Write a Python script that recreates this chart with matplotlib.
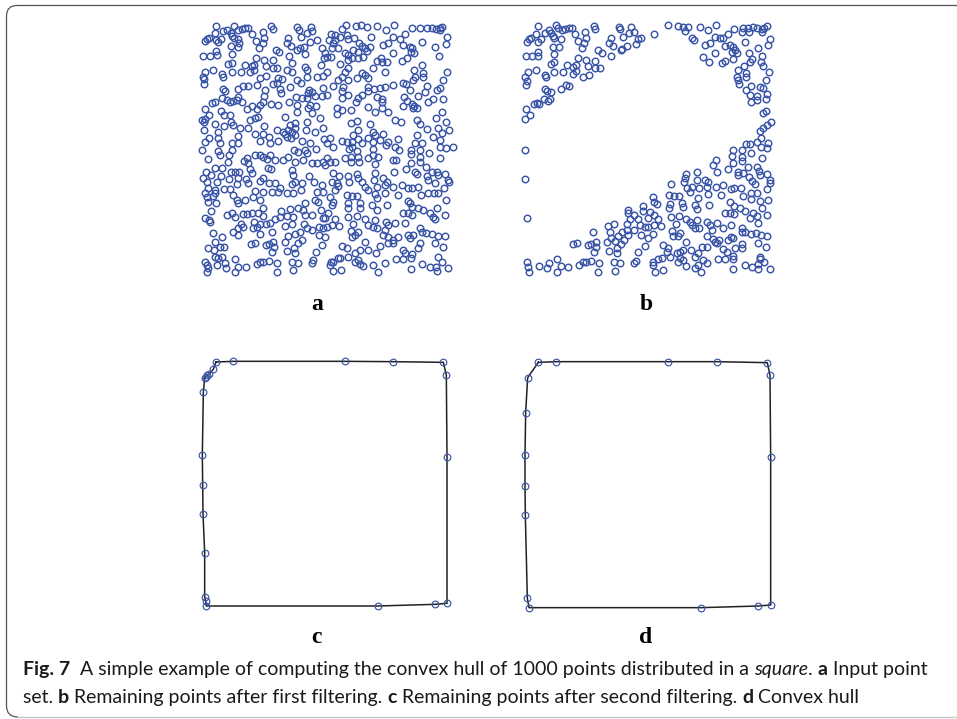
import numpy as np
import matplotlib
matplotlib.use('Agg')
import matplotlib.pyplot as plt
from matplotlib.patches import PathPatch
from matplotlib.path import Path

# Points, tile by tile (tile pixels, scale 3)
a_top_left = [(63,32),(117,32),(229,33),(235,43),(305,37),(312,45),(348,35),(352,48),(335,55),
    (85,47),(97,45),(130,45),(140,42),(150,40),(160,38),(108,55),(112,62),(118,70),(130,72),(203,50),(172,58),(318,65),(207,68),
    (30,78),(36,73),(42,68),(60,55),(63,75),(70,82),(78,72),(182,78),(133,85),(130,95),(108,93),(203,85),(193,100),(280,70),(275,85),(288,92),(305,105),(315,100),(328,95),(330,118),(382,100),(345,80),(365,75),
    (25,124),(45,124),(63,108),(65,120),(110,118),(243,104),(252,112),(282,122),(183,130),(207,134),(235,135),(100,146),(112,143),(150,150),(170,152),(178,150),(213,153),(233,158),(245,158),(275,165),(292,145),(330,155),(335,165),(378,150),(388,130),
    (55,165),(30,172),(24,185),(28,192),(27,208),(82,178),(85,185),(111,172),(138,172),(165,172),(177,165),(195,188),(214,182),(292,172),(365,187),(385,182),(305,195),(318,203),(335,187),
    (85,222),(90,228),(130,222),(145,212),(158,214),(185,210),(210,225),(208,243),(235,207),(245,205),(250,190),(260,192),(255,222),(258,235),(285,215),(343,225),(338,235),(350,232),(360,243),(382,243),(385,220),(302,245),(335,250),
    (80,250),(95,255),(105,260),(115,258),(125,255),(130,245),(142,262),(52,265),(60,262),(205,262),(228,268),(248,270),(283,262),(305,270),(320,250),(345,270),(340,280),(362,272),(30,282),(78,288),(87,300),(105,300),(155,282),(172,272),(195,270),(185,283),(305,290),(350,295),
    (22,314),(42,300),(30,312),(28,322),(60,328),(88,332),(108,322),(115,330),(135,338),(165,315),(180,310),(190,305),(207,332),(158,338),(270,305),(285,330),(300,325),(375,310),(335,322),(333,345),(360,352),(385,338),(280,345),(290,350),(270,357),(300,338),(275,365),(288,370),(300,360),(68,352),(130,362),(180,358),(203,358),(222,365),(245,345),(26,344),(42,368),(30,380),(70,368),(110,383),(75,385),(130,385),(195,378),(250,378),(225,385),(320,378),(345,383),(388,372),(265,352)]

a_top_right = [(63,30),(93,32),(108,30),(125,37),(157,34),(207,30),(182,46),(260,40),(285,38),(305,40),(320,40),(332,42),(345,40),(352,35),(345,45),(292,80),(50,42),(18,57),(65,60),(30,60),(45,65),(12,75),(30,75),(25,85),(40,98),(20,100),(68,72),(88,70),(138,66),(190,85),(175,90),(203,65),(225,72),(240,58),(235,90),(365,65),(362,88),(330,97),(103,85),(112,92),(120,100),(135,95),(60,115),(70,120),(70,135),(85,105),(100,110),(125,108),(115,125),(98,130),(80,128),(205,113),(255,95),(262,100),(258,110),(268,115),(245,130),(230,138),(5,127),(18,127),(0,115),(45,147),(168,128),(155,138),(170,142),(185,142),(145,160),(268,165),(290,150),(343,122),(365,170),(70,160),(60,170),(50,185),(40,195),(70,195),(95,190),(110,175),(120,180),(130,190),(180,172),(270,185),(265,195),(295,175),(295,185),(355,195),(5,170),(25,212),(55,215),(52,228),(70,240),(50,250),(130,215),(148,222),(165,220),(180,215),(205,210),(235,205),(243,207),(255,225),(305,212),(345,218),(335,225),(5,240),(155,245),(170,252),(172,262),(130,228),(110,240),(100,250),(92,260),(238,245),(280,242),(300,232),(310,262),(325,252),(355,252),(245,258),(235,272),(260,268),(268,272),(275,278),(265,280),(128,275),(35,280),(52,285),(78,285),(35,297),(150,292),(170,280),(188,290),(78,325),(97,318),(135,328),(210,316),(228,322),(275,315),(285,328),(305,343),(332,310),(350,290),(362,320),(338,340),(98,345),(85,360),(145,350),(150,360),(175,358),(165,375),(145,380),(130,370),(15,370),(50,378),(5,385),(65,380),(80,380),(100,372),(110,385),(190,382),(218,372),(275,360),(270,385),(325,365),(350,355),(372,345),(345,375),(290,385)]

a_bottom_left = [(22,14),(70,18),(75,30),(38,42),(103,30),(98,50),(110,15),(180,30),(195,30),(205,35),(215,42),(225,30),(240,45),(155,40),(148,48),(160,55),(165,72),(172,85),(220,68),(228,72),(265,45),(278,35),(298,15),(310,22),(330,15),(335,25),(325,45),(300,50),(362,12),(352,55),(365,55),(385,50),(60,68),(82,68),(108,82),(120,80),(132,82),(32,82),(25,100),(48,90),(78,92),(102,102),(130,100),(152,103),(160,115),(125,116),(205,100),(195,108),(222,115),(240,115),(290,75),(295,90),(343,92),(300,110),(320,115),(290,118),(358,112),(380,120),(35,110),(65,110),(38,128),(60,135),(88,133),(105,133),(180,138),(205,140),(255,130),(248,140),(232,140),(275,145),(295,145),(318,135),(365,140),(385,140),(30,145),(35,155),(60,145),(55,152),(115,150),(125,165),(128,175),(150,165),(175,155),(195,165),(360,165),(370,170),(38,172),(62,175),(330,175),(47,197),(97,210),(110,203),(120,215),(143,207),(155,208),(170,205),(190,205),(205,188),(203,212),(258,198),(285,192),(310,190),(325,195),(330,210),(352,210),(378,195),(385,220),(30,218),(42,225),(45,232),(240,223),(255,215),(275,212),(295,215),(137,238),(128,250),(145,245),(178,232),(185,245),(195,238),(175,250),(213,238),(225,235),(230,260),(270,243),(292,238),(328,238),(335,250),(352,255),(372,245),(385,250),(315,260),(113,262),(130,270),(195,266),(55,265),(80,275),(60,290),(270,292),(278,272),(300,268),(320,285),(310,295),(372,270),(168,296),(180,295),(212,300),(222,298),(235,292),(238,305),(232,322),(38,308),(58,315),(75,305),(88,305),(275,318),(298,310),(300,325),(363,320),(382,300),(60,335),(70,340),(80,335),(120,342),(90,355),(65,360),(30,352),(35,360),(38,370),(35,380),(92,370),(130,365),(153,365),(185,358),(195,350),(205,350),(222,348),(247,355),(292,350),(310,355),(350,355),(355,345),(120,380),(245,380),(293,376)]

a_bottom_right = [(25,5),(72,12),(80,5),(95,18),(145,12),(183,0),(210,5),(222,15),(257,15),(285,14),(312,25),(345,5),(362,8),(385,5),(5,40),(15,50),(30,50),(0,60),(60,40),(78,35),(78,52),(98,35),(102,52),(128,38),(145,30),(160,35),(205,45),(213,45),(258,28),(258,55),(285,35),(285,50),(345,40),(150,58),(208,82),(243,72),(270,80),(275,88),(302,65),(320,80),(335,80),(340,90),(150,85),(25,85),(42,92),(68,92),(95,88),(100,98),(72,110),(22,110),(35,115),(40,122),(30,135),(110,110),(120,125),(130,135),(148,105),(155,125),(175,100),(185,110),(180,120),(205,125),(230,120),(250,128),(262,128),(280,125),(305,92),(310,105),(330,115),(360,88),(370,105),(372,112),(358,130),(150,148),(155,160),(180,145),(220,150),(287,150),(310,145),(328,145),(340,145),(65,150),(80,152),(95,152),(15,155),(25,170),(20,180),(68,175),(68,190),(105,175),(105,190),(142,180),(155,195),(185,180),(250,168),(255,175),(362,165),(335,190),(315,205),(325,215),(280,190),(295,195),(260,185),(235,205),(248,205),(262,210),(360,210),(330,222),(10,205),(0,220),(30,222),(70,215),(97,212),(120,222),(150,225),(182,232),(190,240),(210,235),(240,235),(285,250),(20,240),(42,242),(5,245),(0,275),(85,238),(130,240),(145,245),(155,248),(78,257),(100,262),(90,270),(80,275),(180,255),(175,270),(190,275),(205,285),(218,275),(250,270),(265,270),(255,280),(290,262),(302,265),(322,268),(340,272),(360,272),(120,292),(50,302),(65,310),(90,325),(105,315),(130,315),(165,302),(190,295),(205,295),(235,315),(285,295),(280,310),(330,295),(355,305),(240,325),(262,328),(258,340),(233,342),(212,342),(90,350),(100,345),(105,358),(115,362),(45,340),(38,340),(68,337),(18,352),(25,352),(15,360),(145,360),(180,355),(152,325),(160,380),(25,378),(48,374),(258,372),(292,358),(315,365),(332,365),(350,352),(338,335),(370,370),(335,378)]

b_top = [(69,33),(123,31),(236,33),(240,43),(311,37),(315,43),(349,37),(358,50),(342,55),(325,65),(459,31),(488,32),(505,35),(510,47),(520,37),(555,35),(578,46),(604,31),(656,41),(683,38),(700,38),(715,37),(725,40),(740,42),(748,38),(757,33),(703,50),(680,52),(740,50),
    (90,53),(103,45),(130,38),(140,45),(150,42),(162,38),(170,40),(63,57),(108,55),(115,62),(118,70),(138,72),(180,58),(210,50),(212,68),(36,82),(42,72),(47,68),(70,80),(78,72),(188,78),(208,85),(133,95),(115,95),(200,100),(287,70),(282,83),(295,92),(336,94),(362,88),(368,72),(377,70),(417,58),(532,68),(537,75),(600,65),(615,70),(625,70),(638,58),(690,80),(764,72),(758,90),(570,90),(585,85),(630,92),(645,90),(655,97),(665,115),(650,110),(660,105),(318,105),(322,102),(728,98),(250,105),(260,115),(289,123),(32,124),(51,124),(69,110),(69,122),(117,118),(190,130),(214,134),(240,138),(108,147),(117,142),(155,151),(175,155),(183,150),(220,153),(240,158),(255,160),(600,115),(565,127),(582,142),(622,143),(630,137),(655,133),(703,113),(712,133),(705,140),(688,152),(740,122),(738,142),(745,152),(763,170),
    (62,165),(38,172),(30,185),(36,197),(33,210),(90,180),(92,187),(118,172),(145,172),(175,178),(183,168),(204,185),(221,181),(668,165),(665,185),(670,195),(692,175),(692,185),(673,208),(752,196),(707,212),(692,225),(735,217),(745,220),(90,221),(97,228),(108,232),(137,222),(152,210),(163,214),(704,241),(725,243),(755,238),(752,253),(725,255),(707,262),(88,252),(100,257),(105,252),(58,266),(65,265),(72,267),(32,282),(46,300),(29,313),(745,295),(754,288),(767,320),(755,330),(745,340),(735,348),(738,370),(725,380),(693,386),(705,386),(760,385)]

b_bottom = [(30,14),(30,102),(36,218),(653,15),(682,14),(708,25),(738,5),(755,10),(652,33),(680,35),(680,48),(742,40),(602,44),(655,55),(595,60),(605,82),(640,73),(698,66),(725,65),(670,80),(670,90),(685,85),(733,78),(735,90),(703,95),(710,108),(757,88),(765,105),(765,115),(755,132),(719,117),(514,88),(510,100),(545,82),(545,105),(468,118),(508,110),(530,125),(515,130),(525,140),(552,130),(570,105),(580,112),(575,125),(603,125),(625,120),(578,146),(617,150),(647,132),(657,130),(677,128),(683,152),(708,145),(725,145),(735,168),(708,162),(760,165),(462,151),(477,153),(492,153),(415,156),(418,172),(425,178),(500,175),(505,185),(540,180),(550,160),(547,193),(582,181),(465,177),(463,190),(385,183),(385,197),(405,200),(418,210),(340,195),(338,205),(358,210),(345,222),(370,222),(398,218),(428,223),(467,215),(493,212),(512,222),(525,232),(545,225),(575,232),(585,240),(607,235),(630,203),(645,205),(657,208),(657,183),(645,170),(675,188),(690,197),(715,205),(725,212),(705,218),(728,235),(740,190),(755,210),(335,238),(278,243),(297,238),(375,240),(390,247),(400,247),(418,240),(438,242),(358,255),(335,255),(482,238),(530,240),(540,250),(552,250),(647,240),(590,255),(625,250),(680,248),(690,262),(235,262),(284,262),(320,260),(340,270),(309,272),(288,280),(300,288),(328,285),(378,270),(400,280),(415,268),(472,257),(475,273),(495,265),(490,272),(575,272),(680,262),(708,268),(722,265),(738,270),(757,272),(648,275),(655,280),(640,285),(612,285),(595,282),(605,295),(275,292),(318,298),(175,298),(186,295),(218,300),(228,298),(242,292),(243,305),(237,322),(282,318),(305,310),(307,325),(370,320),(390,302),(445,300),(460,310),(455,322),(514,292),(505,315),(527,315),(495,320),(485,325),(560,305),(575,305),(550,325),(540,337),(600,290),(625,312),(635,322),(660,308),(682,297),(680,310),(655,332),(730,295),(752,305),(735,335),(735,342),(440,338),(430,343),(465,337),(495,340),(490,352),(37,352),(40,365),(42,380),(72,362),(97,368),(102,355),(127,342),(137,364),(160,366),(126,380),(192,360),(205,350),(212,350),(228,348),(253,355),(298,350),(316,355),(358,355),(364,348),(250,380),(300,378),(415,350),(415,360),(420,380),(445,375),(505,345),(512,362),(563,345),(576,355),(548,360),(540,368),(557,380),(608,342),(630,342),(655,342),(655,372),(690,360),(710,365),(728,372),(730,358),(748,352),(766,372)]

c_hull = [(78,36),(130,34),(465,34),(610,35),(760,37),(769,76),(771,320),(771,760),(734,763),(563,768),(49,768),(47,752),(44,740),(44,608),(39,491),(38,405),(37,314),(40,127),(44,84),(48,80),(52,76),(58,71),(70,58)]
d_hull = [(70,37),(123,35),(460,35),(605,35),(757,38),(765,76),(767,322),(767,765),(730,768),(558,773),(42,773),(37,745),(31,495),(30,407),(30,316),(32,188),(38,83)]

panel_labels = ['a', 'b', 'c', 'd']
line1 = [('Fig. 7', 'bold', 'normal'), ('  A simple example of computing the convex hull of 1000 points distributed in a ', 'normal', 'normal'),
         ('square', 'normal', 'italic'), ('. ', 'normal', 'normal'), ('a', 'bold', 'normal'), (' Input point', 'normal', 'normal')]
line2 = [('set. ', 'normal', 'normal'), ('b', 'bold', 'normal'), (' Remaining points after first filtering. ', 'normal', 'normal'),
         ('c', 'bold', 'normal'), (' Remaining points after second filtering. ', 'normal', 'normal'), ('d', 'bold', 'normal'), (' Convex hull', 'normal', 'normal')]

blue = '#3a55a8'


def to_page(points, x0, y0):
    pts = np.array(points, dtype=float)
    return x0 + pts[:, 0] / 3, y0 + pts[:, 1] / 3


def draw_runs(ax, runs, x, y, size):
    # caption lines mix bold, italic and plain, so place them run by run
    fig.canvas.draw()
    renderer = fig.canvas.get_renderer()
    for s, weight, style in runs:
        ax.text(x, y, s, family='Lato', fontsize=size, weight=weight, style=style,
                color='#1a1a1a', va='baseline', ha='left')
        # trailing spaces count towards the width
        probe = ax.text(0, 0, s.replace(' ', '\u00a0'), family='Lato', fontsize=size, weight=weight, style=style)
        x += probe.get_window_extent(renderer).width
        probe.remove()


fig = plt.figure(figsize=(9.57, 7.19), dpi=100)
ax = fig.add_axes([0, 0, 1, 1])
ax.set_xlim(0, 957)
ax.set_ylim(719, 0)
ax.axis('off')

# rounded frame
frame = Path([(970, 5.5), (17, 5.5), (6.5, 5.5), (6.5, 16), (6.5, 706), (6.5, 717), (18, 717)],
             [Path.MOVETO, Path.LINETO, Path.CURVE3, Path.CURVE3, Path.LINETO, Path.CURVE3, Path.CURVE3])
ax.add_patch(PathPatch(frame, fill=False, edgecolor='#555555', lw=0.9))
ax.plot([18, 957], [717, 717], color='#c8c8c8', lw=1.0)

# panel a
for tile, x0, y0 in [(a_top_left, 195, 15), (a_top_right, 325, 15), (a_bottom_left, 195, 145), (a_bottom_right, 325, 145)]:
    x, y = to_page(tile, x0, y0)
    ax.plot(x, y, 'o', mfc='none', mec=blue, ms=4.7, mew=1.05)

# panel b
for tile, x0, y0 in [(b_top, 515, 15), (b_bottom, 515, 145)]:
    x, y = to_page(tile, x0, y0)
    ax.plot(x, y, 'o', mfc='none', mec=blue, ms=4.7, mew=1.05)

# panels c and d, hull outline with its points
for hull, x0, y0 in [(c_hull, 190, 350), (d_hull, 515, 350)]:
    x, y = to_page(hull, x0, y0)
    ax.plot(np.append(x, x[0]), np.append(y, y[0]), color='#222222', lw=1.1)
    ax.plot(x, y, 'o', mfc='none', mec=blue, ms=4.8, mew=0.85)

for label, px, py in zip(panel_labels, [317, 646, 316, 646], [310, 310, 643, 643]):
    ax.text(px, py, label, family='Liberation Serif', weight='bold', fontsize=17, color='black', ha='center', va='baseline')

draw_runs(ax, line1, 23, 675, 14.0)
draw_runs(ax, line2, 23, 703, 14.0)

fig.savefig('out.png', dpi=100)
